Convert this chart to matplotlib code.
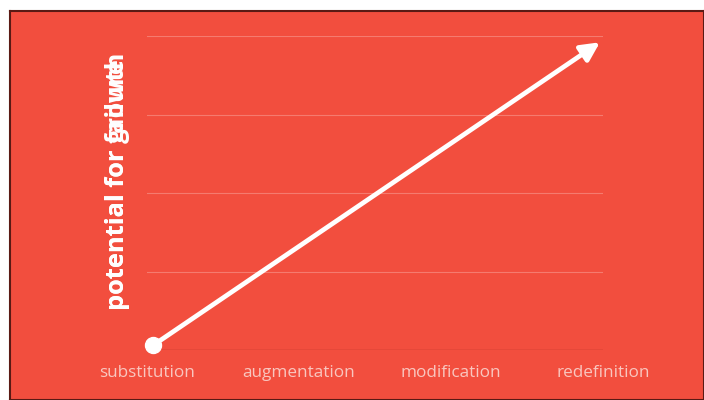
import matplotlib
matplotlib.use("Agg")
import matplotlib.pyplot as plt

categories = ["substitution", "augmentation", "modification", "redefinition"]
arrow_x = [0.04, 2.98]
arrow_y = [0.06, 3.92]
grid_levels = [1, 2, 3, 4]
ylabels = ["potential for failure", "potential for growth"]

RED = "#F24E3E"
W, H = 704, 400
fig = plt.figure(figsize=(W / 100, H / 100), dpi=100, facecolor="white")

# red panel with dark border (background axes)
bg = fig.add_axes([10 / W, 0, 1 - 10 / W, (H - 11) / H], zorder=-1)
bg.set_facecolor(RED)
bg.set_xticks([])
bg.set_yticks([])
for k, s in bg.spines.items():
    s.set_color("#5a1a14")
    s.set_linewidth(1.5)

ax = fig.add_axes([147 / W, 50 / H, (603 - 147) / W, (350 - 36) / H], zorder=1)
ax.set_facecolor("none")
ax.set_xlim(0, 3)
ax.set_ylim(0, 4)
for s in ax.spines.values():
    s.set_visible(False)

for g in grid_levels:
    ax.axhline(g, color="#F57B6F", lw=0.8, zorder=1)
ax.axhline(0, xmin=0.015, color="#B83226", lw=1.0, zorder=1)

ax.set_xticks(range(len(categories)))
ax.set_xticklabels(categories, fontfamily="Open Sans", fontsize=12.3, color="#F9C6BF")
ax.tick_params(axis="x", length=0, pad=11)
ax.set_yticks([])

ax.annotate("", xy=(arrow_x[1], arrow_y[1]), xytext=(arrow_x[0], arrow_y[0]),
            arrowprops=dict(arrowstyle="-|>", color="white", lw=3.4, mutation_scale=28,
                            shrinkA=0, shrinkB=0),
            zorder=4, annotation_clip=False)
ax.plot([arrow_x[0]], [arrow_y[0]], "o", color="white", markersize=11.5, clip_on=False, zorder=5)

for lab in ylabels:
    fig.text(118 / W, 1 - 310 / H, lab, rotation=90, ha="center", va="bottom",
             fontfamily="Open Sans", fontweight="bold", fontsize=18.3, color="white")

fig.savefig("out.png", dpi=100, facecolor="white")
